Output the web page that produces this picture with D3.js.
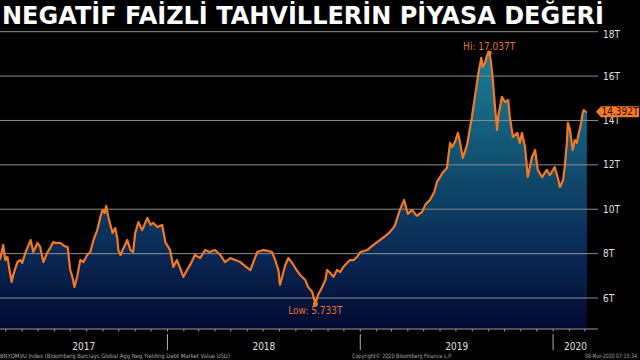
<!DOCTYPE html>
<html>
<head>
<meta charset="utf-8">
<script src="https://cdn.jsdelivr.net/npm/d3@7/dist/d3.min.js"></script>
<style>
  html, body { margin: 0; padding: 0; background: #000; }
  svg { display: block; }
</style>
</head>
<body>
<svg id="chart" width="640" height="360"></svg>
<script>
const title = "NEGATİF FAİZLİ TAHVİLLERİN PİYASA DEĞERİ";
const footLeft = "BNYDMVU Index (Bloomberg Barclays Global Agg Neg Yielding Debt Market Value USD)";
const footMid = "Copyright© 2020 Bloomberg Finance L.P.";
const footRight = "06-Mar-2020 07:15:34";

const yTicks = [6, 8, 10, 12, 14, 16, 18];
const yearLabels = ["2017", "2018", "2019", "2020"];

const dates = [
"2017-02-18","2017-02-24","2017-02-28","2017-03-04","2017-03-08","2017-03-12","2017-03-15","2017-03-23","2017-03-29","2017-04-01",
"2017-04-07","2017-04-17","2017-04-22","2017-04-30","2017-05-05","2017-05-11","2017-05-19","2017-05-24","2017-05-30","2017-06-03",
"2017-06-12","2017-06-20","2017-06-26","2017-07-01","2017-07-05","2017-07-09","2017-07-14","2017-07-20","2017-07-26","2017-08-02",
"2017-08-08","2017-08-14","2017-08-21","2017-08-27","2017-08-31","2017-09-04","2017-09-07","2017-09-11","2017-09-19","2017-09-24",
"2017-09-28","2017-09-30","2017-10-04","2017-10-10","2017-10-17","2017-10-23","2017-10-28","2017-11-01","2017-11-07","2017-11-14",
"2017-11-24","2017-11-30","2017-12-05","2017-12-13","2017-12-22","2017-12-28",
"2018-01-06","2018-01-12","2018-01-19","2018-01-25","2018-01-31","2018-02-07","2018-02-13","2018-02-22","2018-03-04","2018-03-13",
"2018-03-22","2018-04-01","2018-04-11","2018-04-20","2018-04-30","2018-05-09","2018-05-19","2018-05-28","2018-06-07","2018-06-12",
"2018-06-20","2018-07-01","2018-07-11","2018-07-18","2018-07-24","2018-07-30","2018-08-02","2018-08-06","2018-08-12","2018-08-18",
"2018-08-25","2018-08-31","2018-09-09","2018-09-19","2018-09-24","2018-10-02","2018-10-08","2018-10-13","2018-10-21","2018-10-27",
"2018-10-30","2018-11-05","2018-11-11","2018-11-18","2018-11-24","2018-11-30","2018-12-07","2018-12-13","2018-12-19","2018-12-26",
"2019-01-01","2019-01-14","2019-01-23","2019-01-31","2019-02-07","2019-02-17","2019-02-26","2019-03-07","2019-03-17","2019-03-25",
"2019-04-01","2019-04-09","2019-04-18","2019-04-28","2019-05-05","2019-05-13","2019-05-21","2019-05-26","2019-06-01","2019-06-07",
"2019-06-14","2019-06-20","2019-06-24","2019-06-29","2019-07-05","2019-07-09","2019-07-14","2019-07-22","2019-07-28","2019-07-31",
"2019-08-06","2019-08-12","2019-08-18","2019-08-21","2019-08-25","2019-08-29","2019-09-02","2019-09-05","2019-09-09","2019-09-13",
"2019-09-17","2019-09-19","2019-09-26","2019-10-02","2019-10-08","2019-10-11","2019-10-17","2019-10-25","2019-10-30","2019-11-03",
"2019-11-09","2019-11-14","2019-11-22","2019-11-28","2019-12-03","2019-12-11","2019-12-20","2019-12-26",
"2020-01-04","2020-01-10","2020-01-14","2020-01-20","2020-01-23","2020-01-27","2020-01-29","2020-02-02","2020-02-07","2020-02-11",
"2020-02-15","2020-02-17","2020-02-23","2020-02-26","2020-02-28","2020-03-03","2020-03-05"
];

const values = [
7.71,8.39,7.71,7.85,7.26,6.72,7.04,7.62,7.71,7.58,
8.03,8.61,8.07,8.48,8.30,7.62,8.07,8.25,8.52,8.48,
8.48,8.34,8.30,7.26,6.95,6.50,6.95,7.71,7.62,7.94,
8.07,8.61,9.06,9.65,9.97,9.83,10.15,9.65,8.93,9.15,
8.70,8.16,7.94,8.25,8.61,8.16,8.07,8.93,9.42,9.06,
9.61,9.29,9.38,9.20,9.29,8.52,
8.16,7.40,7.71,7.35,6.95,7.26,7.49,7.94,7.80,8.16,
8.07,8.16,7.94,7.62,7.80,7.71,7.62,7.44,7.26,7.58,
8.07,8.16,8.12,8.07,7.71,7.26,6.59,6.95,7.49,7.80,
7.58,7.35,7.04,6.81,6.50,6.27,5.733,6.14,6.50,6.81,
7.26,7.13,6.95,7.26,7.17,7.40,7.58,7.71,7.71,7.85,
8.07,8.16,8.34,8.48,8.61,8.79,8.97,9.24,9.97,10.42,
9.79,9.97,9.70,9.88,10.24,10.42,10.78,11.23,11.45,11.68,
11.86,12.99,12.80,13.03,13.44,12.99,12.31,12.89,13.71,14.11,
15.06,16.05,16.82,16.41,16.59,16.95,17.037,16.73,15.82,14.61,
13.57,14.16,15.06,14.83,14.92,14.16,13.26,13.44,12.99,13.44,
12.80,11.45,12.35,12.67,11.77,11.45,11.77,11.54,
11.90,11.41,11.00,11.32,11.90,12.99,13.89,13.57,12.67,13.12,
12.99,13.26,13.89,14.34,14.47,14.38,14.392
];

const parse = d3.timeParse("%Y-%m-%d");
const data = dates.map((d, i) => ({ date: parse(d), value: values[i] }));

const svg = d3.select("#chart");
const W = 640, H = 360;
const plotRight = 598, plotBottom = 329;

const x = d3.scaleTime()
  .domain([parse("2017-02-18"), parse("2020-03-26")])
  .range([0, plotRight]);
const y = d3.scaleLinear().domain([6, 18]).range([298, 31.7]);
const yBase = y.invert(plotBottom);

const orange = "#f47a22";
const fontC = "'DejaVu Sans Condensed', 'DejaVu Sans', sans-serif";

svg.append("rect").attr("width", W).attr("height", H).attr("fill", "#000");

// gradient
const defs = svg.append("defs");
const grad = defs.append("linearGradient").attr("id", "fillGrad")
  .attr("gradientUnits", "userSpaceOnUse")
  .attr("x1", 0).attr("x2", 0)
  .attr("y1", y(17.2)).attr("y2", plotBottom);
grad.append("stop").attr("offset", "0").attr("stop-color", "#1e7f98");
grad.append("stop").attr("offset", "0.45").attr("stop-color", "#0f4a6c");
grad.append("stop").attr("offset", "0.72").attr("stop-color", "#0a2a56");
grad.append("stop").attr("offset", "1").attr("stop-color", "#030a30");

// area
const area = d3.area()
  .x(d => x(d.date))
  .y0(y(yBase))
  .y1(d => y(d.value));
svg.append("path").datum(data).attr("d", area).attr("fill", "url(#fillGrad)");

// gridlines
svg.append("g").selectAll("line").data(yTicks).join("line")
  .attr("x1", 0).attr("x2", plotRight)
  .attr("y1", d => y(d)).attr("y2", d => y(d))
  .attr("stroke", "#8e8e8e").attr("stroke-width", 1);

// y tick labels
svg.append("g").selectAll("text").data(yTicks).join("text")
  .attr("x", plotRight + 5)
  .attr("y", d => Math.max(y(d), 34))
  .attr("dy", "0.36em")
  .attr("fill", "#e0e0e0")
  .attr("font-family", fontC)
  .attr("font-size", 10)
  .text(d => d + "T");

// x axis line + month ticks
svg.append("line").attr("x1", 0).attr("x2", plotRight)
  .attr("y1", plotBottom).attr("y2", plotBottom)
  .attr("stroke", "#9a9a9a").attr("stroke-width", 1);
const months = d3.timeMonth.range(x.domain()[0], x.domain()[1]);
svg.append("g").selectAll("line").data(months).join("line")
  .attr("x1", d => x(d)).attr("x2", d => x(d))
  .attr("y1", plotBottom).attr("y2", plotBottom + 2.5)
  .attr("stroke", "#9a9a9a").attr("stroke-width", 1);

// year separators + labels
const years = yearLabels.map(s => parse(s + "-01-01"));
svg.append("g").selectAll("line").data(years.filter(d => d > x.domain()[0])).join("line")
  .attr("x1", d => x(d)).attr("x2", d => x(d))
  .attr("y1", plotBottom + 5).attr("y2", plotBottom + 21)
  .attr("stroke", "#b0b0b0").attr("stroke-width", 1);
svg.append("g").selectAll("text").data(years).join("text")
  .attr("x", d => {
    const s = Math.max(x(d), 0);
    const e = Math.min(x(d3.timeYear.offset(d, 1)), plotRight);
    return (s + e) / 2;
  })
  .attr("y", 350)
  .attr("text-anchor", "middle")
  .attr("fill", "#e0e0e0")
  .attr("font-family", fontC)
  .attr("font-size", 10)
  .text(d => d.getFullYear());

// line
const line = d3.line().x(d => x(d.date)).y(d => y(d.value));
svg.append("path").datum(data).attr("d", line)
  .attr("fill", "none").attr("stroke", orange)
  .attr("stroke-width", 2.2).attr("stroke-linejoin", "round");

// hi / low
const hi = data.reduce((a, b) => (b.value > a.value ? b : a));
const lo = data.reduce((a, b) => (b.value < a.value ? b : a));
const f3 = d3.format(".3f");
[hi, lo].forEach(p => {
  svg.append("circle").attr("cx", x(p.date)).attr("cy", y(p.value)).attr("r", 2.5).attr("fill", orange);
});
svg.append("text").attr("x", x(hi.date)).attr("y", y(hi.value) - 3)
  .attr("text-anchor", "middle").attr("fill", "#e8732c")
  .attr("font-family", fontC).attr("font-size", 10)
  .text("Hi: " + f3(hi.value) + "T");
svg.append("text").attr("x", x(lo.date)).attr("y", y(lo.value) + 10)
  .attr("text-anchor", "middle").attr("fill", "#e8732c")
  .attr("font-family", fontC).attr("font-size", 10)
  .text("Low: " + f3(lo.value) + "T");

// last value tag
const last = data[data.length - 1];
const ly = y(last.value);
const tagL = plotRight + 1, tagR = 639, th = 5.5;
svg.append("path")
  .attr("d", `M${tagL - 3},${ly} L${tagL + 2},${ly - th} L${tagR},${ly - th} L${tagR},${ly + th} L${tagL + 2},${ly + th} Z`)
  .attr("fill", "#f47a2a");
svg.append("text").attr("x", (tagL + 2 + tagR) / 2).attr("y", ly).attr("dy", "0.36em")
  .attr("text-anchor", "middle").attr("fill", "#2a0d00")
  .attr("font-family", fontC).attr("font-size", 10)
  .text(f3(last.value) + "T");

// title
svg.append("text").attr("x", 2).attr("y", 24)
  .attr("fill", "#fff")
  .attr("font-family", "'DejaVu Sans', sans-serif")
  .attr("font-weight", "bold")
  .attr("font-size", 25)
  .attr("textLength", 602).attr("lengthAdjust", "spacingAndGlyphs")
  .text(title);

// footnotes
const foot = svg.append("g").attr("fill", "#a8a8a8").attr("font-family", fontC).attr("font-size", 6);
foot.append("text").attr("x", 0).attr("y", 357.5).attr("textLength", 230).attr("lengthAdjust", "spacingAndGlyphs").text(footLeft);
foot.append("text").attr("x", 352).attr("y", 357.5).attr("textLength", 100).attr("lengthAdjust", "spacingAndGlyphs").text(footMid);
foot.append("text").attr("x", 585).attr("y", 357.5).attr("textLength", 52).attr("lengthAdjust", "spacingAndGlyphs").text(footRight);
</script>
</body>
</html>
